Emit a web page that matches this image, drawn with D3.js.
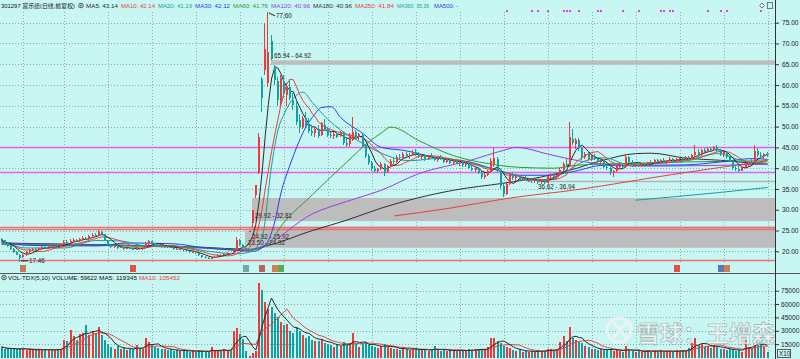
<!DOCTYPE html>
<html>
<head>
<meta charset="utf-8">
<title>301297 富乐德</title>
<script src="https://d3js.org/d3.v7.min.js"></script>
<style>
  body { margin: 0; background: #c8f6f3; overflow: hidden; }
  svg text { font-family: "Liberation Sans", "Noto Sans CJK SC", sans-serif; }
</style>
</head>
<body>
<script>
// daily candles (前复权)
var open = [22.9,22.6,22.0,21.2,20.6,19.9,19.1,18.6,19.1,19.8,
  20.3,20.6,20.4,20.9,21.0,20.7,21.2,21.0,21.4,21.2,
  21.6,22.3,22.0,22.5,22.8,22.4,23.0,23.3,22.9,23.6,
  24.0,23.7,24.6,24.1,22.6,21.5,21.0,21.3,20.8,21.0,
  20.6,20.9,20.7,20.4,20.8,20.5,20.9,21.8,22.4,22.0,
  21.6,21.2,21.0,21.3,21.1,20.9,20.6,20.4,20.5,20.2,
  20.0,19.8,19.9,19.6,19.0,18.7,18.5,18.4,18.5,18.7,
  19.2,19.1,19.4,19.6,19.5,20.1,22.6,21.5,20.9,24.92,
  26.8,33.5,39.0,61.5,63.5,60.5,70.5,64.5,61.0,56.0,
  61.0,57.5,59.5,56.5,55.0,51.5,50.0,52.0,50.5,49.0,
  48.5,49.5,48.0,50.5,49.5,48.0,47.8,48.2,47.7,48.3,
  46.0,45.8,46.8,48.6,47.5,48.0,45.3,43.0,41.2,39.8,
  39.3,39.8,41.0,39.0,40.4,41.8,41.5,42.8,42.4,43.4,
  42.9,43.2,44.0,43.3,42.8,43.1,42.2,42.9,42.6,42.0,
  42.5,42.3,41.5,42.1,41.3,41.9,41.2,41.6,40.7,41.2,
  40.0,39.6,40.1,38.9,37.8,38.4,39.2,41.0,42.2,39.5,
  35.8,33.9,36.2,38.4,37.6,38.0,37.2,37.6,37.0,37.3,
  36.9,37.1,36.6,36.9,36.5,38.0,38.5,37.9,38.3,39.6,
  41.0,40.5,47.0,45.8,46.8,44.8,42.6,43.4,42.2,42.9,
  42.1,41.6,42.0,40.4,40.0,38.8,39.3,40.5,40.6,40.3,
  42.8,41.6,40.8,41.1,40.6,40.9,40.7,41.4,41.2,41.9,
  41.4,42.0,41.6,41.8,42.3,41.7,42.1,42.4,41.9,42.6,
  42.2,43.2,44.0,43.2,44.3,43.8,44.6,44.4,45.0,44.3,
  43.4,43.8,42.6,41.8,40.0,39.8,39.4,40.2,40.9,41.5,
  41.2,44.2,43.2,42.9,43.4];
var high = [23.3,22.8,22.2,21.4,20.8,20.1,19.3,19.4,20.0,20.5,
  20.9,20.8,21.1,21.3,21.2,21.4,21.4,21.6,21.6,21.8,
  22.8,22.6,22.9,23.2,23.0,23.3,23.7,23.5,23.9,24.4,
  24.3,25.1,24.9,24.2,22.8,21.8,21.6,21.4,21.3,21.1,
  21.1,21.0,20.9,21.0,20.9,21.1,22.2,22.6,22.5,22.1,
  21.7,21.4,21.5,21.4,21.2,21.0,20.7,20.7,20.6,20.3,
  20.1,20.1,20.0,19.7,19.1,18.9,18.6,18.7,18.9,19.3,
  19.3,19.6,19.8,19.7,20.2,23.5,22.9,21.8,21.2,24.92,
  29.9,35.88,48.5,62.0,75.0,77.6,72.0,64.92,62.0,62.5,
  62.5,60.5,61.5,58.0,56.0,53.0,52.5,53.5,52.0,50.5,
  50.0,50.3,51.0,51.8,50.0,48.8,48.7,48.8,48.9,48.6,
  47.5,48.5,52.2,49.2,48.5,48.4,45.8,43.5,41.8,40.6,
  40.0,41.5,41.3,40.8,42.2,42.5,43.2,43.5,43.8,44.0,
  43.6,44.4,44.6,44.0,43.5,43.4,43.2,43.6,43.0,42.8,
  43.2,42.6,42.4,42.5,42.2,42.3,42.0,41.9,41.5,41.5,
  40.8,40.4,40.4,39.4,38.8,39.6,42.5,44.8,42.6,39.8,
  36.2,36.5,38.8,39.0,38.5,38.4,37.9,38.0,37.6,37.7,
  37.4,37.5,37.2,37.3,38.2,38.8,38.9,38.6,40.0,41.5,
  42.2,51.0,49.5,47.2,47.2,45.2,43.8,43.8,43.2,43.4,
  42.8,42.5,42.3,41.0,40.4,39.6,40.8,41.2,41.0,43.5,
  43.0,42.0,41.4,41.5,41.2,41.3,41.6,41.9,42.2,42.1,
  42.3,42.4,42.0,42.6,42.5,42.4,42.7,42.6,42.9,43.0,
  43.5,45.6,44.5,44.6,44.8,45.0,45.2,45.4,45.5,44.6,
  44.2,44.0,43.0,42.0,40.5,40.6,40.5,41.2,41.8,42.4,
  45.5,44.8,44.0,43.6,43.8];
var low = [22.3,21.8,21.1,20.4,19.7,19.0,17.46,18.3,18.9,19.5,
  20.1,20.1,20.2,20.6,20.5,20.6,20.8,20.9,21.0,21.1,
  21.5,21.8,21.9,22.3,22.2,22.3,22.8,22.7,22.8,23.4,
  23.4,23.6,24.0,22.4,21.3,20.8,20.9,20.6,20.7,20.4,
  20.5,20.5,20.2,20.3,20.3,20.4,20.8,21.6,21.8,21.4,
  21.0,20.8,20.9,20.9,20.7,20.4,20.2,20.3,20.0,19.8,
  19.6,19.7,19.4,18.8,18.5,18.3,18.1,18.2,18.4,18.6,
  18.9,19.0,19.3,19.3,19.4,20.0,21.3,20.7,20.4,24.92,
  25.92,32.81,38.5,53.5,62.5,59.5,65.94,60.0,55.0,55.0,
  57.0,55.0,56.5,54.0,50.5,48.5,49.5,49.8,48.5,47.8,
  47.5,47.2,47.8,49.0,47.5,47.2,47.0,47.3,47.4,45.5,
  45.0,45.2,46.5,47.0,46.8,45.0,42.5,40.8,39.4,38.8,
  38.9,39.5,38.0,38.8,40.2,41.0,41.2,42.0,42.1,42.6,
  42.2,42.9,43.0,42.5,42.0,41.8,41.9,42.4,41.7,41.5,
  42.0,41.2,41.2,41.0,40.9,41.0,40.6,40.4,40.3,39.8,
  39.2,39.1,38.6,37.5,37.4,38.1,39.0,40.2,39.0,35.0,
  33.0,33.5,36.0,37.2,37.0,36.9,36.8,36.8,36.6,36.5,
  36.4,36.3,36.2,36.3,36.4,37.5,37.6,37.5,38.1,39.2,
  40.2,40.3,45.5,44.5,44.2,42.0,42.1,41.8,41.8,41.9,
  41.3,41.0,40.0,39.5,38.3,37.8,39.0,40.0,40.0,40.1,
  41.3,40.4,40.2,40.3,40.2,40.4,40.5,40.9,41.0,41.1,
  41.2,41.3,41.0,41.5,41.4,41.5,41.6,41.5,41.7,41.8,
  42.0,42.8,42.8,43.0,43.4,43.6,44.0,44.2,44.0,43.0,
  42.6,42.3,41.5,39.6,39.3,39.0,39.2,40.0,40.4,41.0,
  41.0,42.8,42.5,42.3,42.6];
var close = [22.6,22.0,21.3,20.6,19.9,19.2,18.5,19.2,19.8,20.3,
  20.6,20.4,20.9,21.0,20.7,21.2,21.0,21.4,21.2,21.6,
  22.3,22.0,22.5,22.8,22.4,23.0,23.3,22.9,23.6,24.0,
  23.7,24.6,24.2,22.6,21.5,21.0,21.3,20.8,21.0,20.6,
  20.9,20.7,20.4,20.8,20.5,20.9,21.8,22.4,22.0,21.6,
  21.2,21.0,21.3,21.1,20.9,20.6,20.4,20.5,20.2,20.0,
  19.8,19.9,19.6,19.0,18.7,18.5,18.4,18.5,18.7,19.2,
  19.1,19.4,19.6,19.5,20.0,22.8,21.5,20.9,20.77,24.92,
  29.9,35.88,47.5,57.0,68.6,68.0,66.3,61.2,56.5,61.8,
  58.0,59.8,57.0,55.2,51.2,50.0,52.0,50.5,49.0,48.5,
  49.5,47.8,50.8,49.4,48.0,47.8,48.3,47.6,48.5,46.0,
  45.6,48.0,48.8,47.5,48.2,45.4,43.0,41.2,39.8,39.3,
  39.9,41.0,38.8,40.5,41.8,41.4,42.8,42.4,43.4,42.9,
  43.2,44.0,43.3,42.8,43.1,42.2,42.9,42.6,42.0,42.5,
  42.3,41.5,42.1,41.3,41.9,41.2,41.6,40.7,41.2,40.0,
  39.6,40.1,38.9,37.8,38.4,39.2,41.8,42.4,39.5,35.6,
  33.8,36.2,38.4,37.6,38.0,37.2,37.6,37.0,37.3,36.9,
  37.1,36.6,36.9,36.5,38.0,38.5,37.9,38.3,39.6,41.0,
  40.6,47.5,46.0,46.8,44.8,42.6,43.4,42.2,42.9,42.1,
  41.6,42.0,40.4,40.0,38.8,39.3,40.5,40.6,40.3,42.8,
  41.6,40.8,41.1,40.6,40.9,40.7,41.4,41.2,41.9,41.4,
  42.0,41.6,41.8,42.3,41.7,42.1,42.4,41.9,42.6,42.2,
  43.2,44.0,43.2,44.3,43.8,44.6,44.4,45.0,44.3,43.4,
  43.8,42.6,41.8,40.0,39.8,39.4,40.2,40.9,41.5,41.2,
  44.2,43.2,42.9,43.4,43.1];
// volume in axis units (x10)
var volume = [12000,10000,9000,9500,10000,9000,11000,9000,8500,9000,
  8000,8500,9500,8000,9000,8500,9000,8000,9500,10000,
  20000,18000,31000,24000,20000,26000,28000,37000,25000,30000,
  27000,34000,25000,20000,15000,12000,10000,13000,9000,11000,
  8500,10000,9000,14000,9500,10000,22000,17000,14000,12000,
  11000,9000,10000,8000,9000,7500,8000,7000,8500,7000,
  6500,7500,6000,8000,7000,6500,6000,12000,7000,8000,
  7500,9000,8000,8500,30000,33000,26000,21000,7000,2000,
  5000,7000,84000,76000,62000,55000,57000,50000,45000,40000,
  36000,38000,30000,28000,34000,30000,25000,22000,24000,20000,
  18000,19000,21000,16000,15000,14000,12000,15000,13000,17000,
  14000,16000,27000,15000,12000,16000,17000,14000,13000,12000,
  11000,13000,15000,12000,11000,9000,10000,8500,12000,9000,
  8000,10000,9500,8000,9000,8500,7500,9000,13000,8000,
  7500,8500,7000,9000,8000,7500,8500,7000,8000,9000,
  8500,9500,9000,10000,8000,12000,22000,22000,19000,16000,
  13000,12000,11000,8000,7000,9000,6500,7500,6000,7000,
  6500,8000,7000,7500,9000,10000,8000,9000,17000,24000,
  19000,34000,22000,20000,17000,16000,13000,12000,10000,9000,
  8000,9500,8500,9000,10000,7500,8000,7000,6500,13000,
  8000,7000,6500,7500,6000,7000,8000,6500,7500,7000,
  8000,6500,7000,7500,6000,8000,7000,8500,7500,11000,
  16000,22000,14000,15000,12000,13000,11000,14000,12000,10000,
  9000,8000,10000,9000,7500,8000,6500,20000,12000,11000,
  14000,22000,15000,12000,6000];

// longer moving averages, read as points along each curve (candle index, price)
var ma20Idx = [0,8,20,30,38,46,55,65,75,79,83,86,88,90,93,96,99,104,108,115,121,130,140,150,158,165,172,180,186,192,200,210,220,228,236,244];
var ma20Val = [22.6,20.8,20.8,22.6,22.5,21.3,21.3,20.1,19.4,19.8,23.4,40.5,49.0,53.0,56.8,58.3,55.8,51.7,49.2,46.0,43.6,41.8,42.4,41.0,39.5,38.0,37.2,39.2,41.8,42.5,40.8,41.2,42.0,43.5,41.8,41.19];
var ma30Idx = [0,10,31,40,55,63,75,80,84,87,89,92,94,97,99,102,105,108,115,121,128,139,149,158,165,174,181,192,202,218,229,239,244];
var ma30Val = [22.3,21.4,21.3,22.0,21.8,21.0,20.2,20.0,21.5,27.0,34.0,41.0,45.0,50.0,52.2,54.6,54.8,52.2,48.4,45.0,44.3,42.4,41.5,39.5,38.3,38.3,39.0,40.7,40.7,40.8,41.5,42.3,42.12];
var ma60Idx = [0,31,63,79,84,90,99,110,117,121,124,133,144,155,165,176,183,202,218,234,244];
var ma60Val = [21.6,21.4,20.9,20.3,21.2,27.0,33.6,41.5,46.3,48.5,49.9,46.6,43.0,41.1,40.2,40.0,40.7,41.2,41.5,41.7,41.76];
var ma120Idx = [0,31,63,79,84,99,110,121,133,149,160,164,174,181,191,207,222,244];
var ma120Val = [21.8,21.5,20.8,20.3,21.5,29.0,32.0,34.7,38.7,41.8,44.3,45.0,43.4,42.2,41.0,40.5,40.6,40.96];
var ma180Idx = [0,31,63,79,84,99,110,121,144,160,172,181,192,202,207,218,229,239,244];
var ma180Val = [22.0,21.6,21.0,20.5,21.2,25.0,27.5,30.4,34.7,36.4,37.9,39.5,42.0,43.5,43.6,42.4,41.9,41.2,40.96];
var ma250Idx = [125,143,160,184,213,244];
var ma250Val = [28.5,30.4,32.6,34.9,38.4,41.8];
var ma360Idx = [202,228,244];
var ma360Val = [32.3,34.1,35.36];

var priceTicks = [20,25,30,35,40,45,50,55,60,65,70,75];
var volTicks = [15000,30000,45000,60000,75000];
var gridIdx = [7,20,34,48,62,76,90,104,118,132,146,160,174,188,202,216,230,244];

// drawn lines and gap zones
var pinkLines = [45.0, 39.1];
var redLines = [25.95, 25.45, 17.9];
var gapLo = [64.92, 29.92, 24.92, 23.50];
var gapHi = [65.94, 32.81, 25.92, 24.92];
var gapFrom = [86, 80, 79, 78];
var gapLabel = ["65.94 - 64.92", "29.92 - 32.81", "24.92 - 25.92", "23.50 - 24.92"];
var supLo = 36.62, supHi = 36.94, supFrom = 171;
var signalIdx = [161,169,171,174,179,180,181,184,190,191,198,203,210,211,213,214,225,229,231,242];
var iconIdx = [7,42,78,83,87,89,215,229,231];

var legendNames = ["MA5","MA10","MA20","MA30","MA60","MA120","MA180","MA250","MA360","MA500"];
var legendValues = ["43.14","42.14","41.19","42.12","41.76","40.96","40.96","41.84","35.36","-"];
var volNames = ["VOL-TDX(5,10)","VOLUME","MA5","MA10"];
var volValues = [null,"59622","119345","105452"];

// styles and layout
var maColor = {MA5:"#2a2a2a", MA10:"#e8403c", MA20:"#1d9c98", MA30:"#2b3bf0", MA60:"#2e9a2e",
  MA120:"#9a3ce6", MA180:"#303030", MA250:"#e8403c", MA360:"#1d9c98", MA500:"#2b3bf0"};
var legendX = [86,121,158,195,233,271,313,355,397,434];
var legendW = [32,34,34,35,35,39,39,39,32,24];
var volLegendX = [8,52,99,139];
var volLegendW = [42,45,38,41];
var upColor = "#f23838", downColor = "#12a0a0";
var iconFill = ["#c8643c","#e83030","#5f9c9c","#b04848","#d07030","#3fa040","#e83030","#4a64a8","#d06a3a"];
var fs = 6.3, lfs = 5.8;

var W = 800, H = 359, right = 775;
var svg = d3.select("body").append("svg").attr("width", W).attr("height", H);
svg.append("rect").attr("width", W).attr("height", H).attr("fill", "#c8f6f3");

var x = d3.scaleLinear().domain([0, close.length - 1]).range([1.5, 767.6]);
var y = d3.scaleLinear().domain([20, 75]).range([251.3, 22.7]);
var yv = d3.scaleLinear().domain([0, 75000]).range([357.5, 290.7]);
var px = function(i) { return Math.round(x(i)); };

var defs = svg.append("defs");
defs.append("clipPath").attr("id", "cp").append("rect").attr("x", 0).attr("y", 10).attr("width", right).attr("height", 253);
defs.append("clipPath").attr("id", "cv").append("rect").attr("x", 0).attr("y", 283).attr("width", right).attr("height", 76);

// grid
var grid = svg.append("g").attr("stroke", "#8fa8a8").attr("stroke-width", 1).attr("stroke-dasharray", "1,2").attr("shape-rendering", "crispEdges");
grid.selectAll(".hp").data(priceTicks).join("line")
  .attr("x1", 0).attr("x2", right).attr("y1", d => Math.round(y(d)) + 0.5).attr("y2", d => Math.round(y(d)) + 0.5);
grid.selectAll(".hv").data(volTicks).join("line")
  .attr("x1", 0).attr("x2", right).attr("y1", d => Math.round(yv(d)) + 0.5).attr("y2", d => Math.round(yv(d)) + 0.5);
grid.selectAll(".vg").data(gridIdx).join("line")
  .attr("x1", d => px(d) + 0.5).attr("x2", d => px(d) + 0.5).attr("y1", 12).attr("y2", 262);
grid.selectAll(".vv").data(gridIdx).join("line")
  .attr("x1", d => px(d) + 0.5).attr("x2", d => px(d) + 0.5).attr("y1", 284).attr("y2", 359);

var gp = svg.append("g").attr("clip-path", "url(#cp)");

// gap zones
var zones = d3.range(gapLo.length);
gp.selectAll(".zone").data(zones).join("rect")
  .attr("x", k => px(gapFrom[k]) - 1)
  .attr("width", k => right - px(gapFrom[k]) + 1)
  .attr("y", k => y(gapHi[k]))
  .attr("height", k => k === 0 ? y(gapLo[k]) - y(gapHi[k]) : y(gapLo[k]) - y(gapHi[k]) + 11)
  .attr("fill", "#bdbdbd");
gp.selectAll(".zl").data(zones).join("text")
  .attr("x", k => px(gapFrom[k]) + 2)
  .attr("y", k => k === 0 ? y(gapHi[k]) - 2 : y(gapLo[k]) + 8)
  .attr("font-size", fs).attr("fill", "#222")
  .text(k => gapLabel[k]);

// support line
gp.append("line").attr("x1", px(supFrom)).attr("x2", right)
  .attr("y1", y((supLo + supHi) / 2)).attr("y2", y((supLo + supHi) / 2))
  .attr("stroke", "#b4b4b4").attr("stroke-width", 1.5);
gp.append("text").attr("x", px(supFrom)).attr("y", y(supLo) + 7)
  .attr("font-size", fs).attr("fill", "#222").text(supLo.toFixed(2) + " - " + supHi.toFixed(2));

// horizontal lines
gp.selectAll(".pl").data(pinkLines).join("line")
  .attr("x1", 0).attr("x2", right).attr("y1", d => Math.round(y(d)) + 0.5).attr("y2", d => Math.round(y(d)) + 0.5)
  .attr("stroke", "#e35ff2").attr("stroke-width", 1.3);
gp.selectAll(".rl").data(redLines).join("line")
  .attr("x1", 0).attr("x2", right).attr("y1", d => Math.round(y(d)) + 0.5).attr("y2", d => Math.round(y(d)) + 0.5)
  .attr("stroke", "#ee7070").attr("stroke-width", 1.3);

// moving averages
function sma(arr, n) {
  return arr.map(function(d, i) { return d3.mean(arr.slice(Math.max(0, i - n + 1), i + 1)); });
}
var lineIdx = d3.line().x((d, i) => x(i)).y(d => y(d));
var knot = d3.line().x(d => x(d[0])).y(d => y(d[1])).curve(d3.curveMonotoneX);
var knotSets = [
  ["MA360", ma360Idx, ma360Val], ["MA250", ma250Idx, ma250Val], ["MA180", ma180Idx, ma180Val],
  ["MA120", ma120Idx, ma120Val], ["MA60", ma60Idx, ma60Val], ["MA30", ma30Idx, ma30Val], ["MA20", ma20Idx, ma20Val]
];
knotSets.forEach(function(s) {
  gp.append("path").attr("d", knot(d3.zip(s[1], s[2]))).attr("fill", "none")
    .attr("stroke", maColor[s[0]]).attr("stroke-width", 1);
});
gp.append("path").attr("d", lineIdx(sma(close, 10))).attr("fill", "none").attr("stroke", maColor.MA10).attr("stroke-width", 1);
gp.append("path").attr("d", lineIdx(sma(close, 5))).attr("fill", "none").attr("stroke", maColor.MA5).attr("stroke-width", 1);

// candles
var idx = d3.range(close.length);
var col = i => close[i] >= open[i] ? upColor : downColor;
var cg = gp.append("g").attr("shape-rendering", "crispEdges");
cg.selectAll(".w").data(idx).join("line")
  .attr("x1", i => px(i) - 0.5).attr("x2", i => px(i) - 0.5)
  .attr("y1", i => y(high[i])).attr("y2", i => y(low[i]))
  .attr("stroke", col);
cg.selectAll(".b").data(idx).join("rect")
  .attr("x", i => px(i) - 1).attr("width", 2)
  .attr("y", i => y(Math.max(open[i], close[i])))
  .attr("height", i => Math.max(1, Math.abs(y(open[i]) - y(close[i]))))
  .attr("fill", col);

// high / low notes
var hiI = d3.maxIndex(high), loI = d3.minIndex(low);
svg.append("path").attr("d", "M" + (px(hiI) + 1) + "," + (y(high[hiI]) + 1) + "l6,3")
  .attr("stroke", "#222").attr("fill", "none");
svg.append("text").attr("x", px(hiI) + 8).attr("y", y(high[hiI]) + 6).attr("font-size", fs).attr("fill", "#222")
  .text(high[hiI].toFixed(2));
svg.append("path").attr("d", "M" + (px(loI) + 1) + "," + (y(low[loI]) - 1) + "h7")
  .attr("stroke", "#222").attr("fill", "none");
svg.append("text").attr("x", px(loI) + 9).attr("y", y(low[loI]) + 1.5).attr("font-size", fs).attr("fill", "#222")
  .text(low[loI].toFixed(2));

// signal dots on top
svg.selectAll(".sig").data(signalIdx).join("rect")
  .attr("x", i => px(i) - 1).attr("y", 10).attr("width", 2).attr("height", 2).attr("fill", "#e83ee8");

// icons under price
svg.selectAll(".ic").data(iconIdx).join("rect")
  .attr("x", i => px(i) - 3).attr("y", 265).attr("width", 6).attr("height", 7)
  .attr("fill", (d, k) => iconFill[k]).attr("opacity", 0.85);

// volume panel
var gv = svg.append("g").attr("clip-path", "url(#cv)");
gv.append("g").attr("shape-rendering", "crispEdges").selectAll("rect").data(idx).join("rect")
  .attr("x", i => px(i) - 1).attr("width", 2)
  .attr("y", i => yv(volume[i])).attr("height", i => yv(0) - yv(volume[i]))
  .attr("fill", col);
var vline = d3.line().x((d, i) => x(i)).y(d => yv(d));
gv.append("path").attr("d", vline(sma(volume, 10))).attr("fill", "none").attr("stroke", "#ee4040").attr("stroke-width", 1);
gv.append("path").attr("d", vline(sma(volume, 5))).attr("fill", "none").attr("stroke", "#2a2a2a").attr("stroke-width", 1);

// panel frame
svg.append("line").attr("x1", 0).attr("x2", W).attr("y1", 273.5).attr("y2", 273.5).attr("stroke", "#555");
svg.append("line").attr("x1", right + 0.5).attr("x2", right + 0.5).attr("y1", 0).attr("y2", H).attr("stroke", "#333");

// axes
var ax = svg.append("g").attr("transform", "translate(" + (right + 1) + ",0)")
  .call(d3.axisRight(y).tickValues(priceTicks).tickFormat(d3.format(".2f")).tickSize(3).tickPadding(3));
var axv = svg.append("g").attr("transform", "translate(" + (right + 1) + ",0)")
  .call(d3.axisRight(yv).tickValues(volTicks).tickFormat(d3.format("d")).tickSize(3).tickPadding(2));
[ax, axv].forEach(function(a) {
  a.select(".domain").remove();
  a.selectAll("text").attr("font-size", 6.6).attr("fill", "#222")
    .attr("font-family", "Liberation Sans, sans-serif");
  a.selectAll("line").attr("stroke", "#333");
});
svg.append("rect").attr("x", 777.5).attr("y", 349.5).attr("width", 13).attr("height", 8)
  .attr("fill", "none").attr("stroke", "#555");
svg.append("text").attr("x", 779).attr("y", 356).attr("font-size", fs).attr("fill", "#222").text("X10");

// top legend
var lg = svg.append("g").attr("font-size", lfs);
lg.append("text").attr("x", 1).attr("y", 8).attr("fill", "#111")
  .attr("textLength", 74).attr("lengthAdjust", "spacingAndGlyphs").text("301297 富乐德(日线,前复权)");
lg.append("circle").attr("cx", 81).attr("cy", 5.5).attr("r", 2.3).attr("fill", "none").attr("stroke", "#555");
lg.append("circle").attr("cx", 81).attr("cy", 5.5).attr("r", 0.9).attr("fill", "#555");
lg.selectAll(".li").data(legendNames).join("text")
  .attr("x", (n, k) => legendX[k]).attr("y", 8).attr("fill", n => maColor[n])
  .attr("textLength", (n, k) => legendW[k]).attr("lengthAdjust", "spacingAndGlyphs")
  .text((n, k) => n + ": " + legendValues[k]);
// top-right buttons
svg.append("path").attr("d", "M762,3l2.5,2.5l-2.5,2.5l-2.5,-2.5z").attr("fill", "none").attr("stroke", "#777");
svg.append("rect").attr("x", 767.5).attr("y", 2.5).attr("width", 5).attr("height", 6).attr("fill", "none").attr("stroke", "#777");

// volume legend
var vg = svg.append("g").attr("font-size", lfs);
vg.append("circle").attr("cx", 4).attr("cy", 277.5).attr("r", 2.3).attr("fill", "none").attr("stroke", "#555");
vg.append("circle").attr("cx", 4).attr("cy", 277.5).attr("r", 0.9).attr("fill", "#555");
vg.selectAll(".vl").data(volNames).join("text")
  .attr("x", (n, k) => volLegendX[k]).attr("y", 280)
  .attr("fill", n => n === "MA10" ? "#e8403c" : "#111")
  .attr("textLength", (n, k) => volLegendW[k]).attr("lengthAdjust", "spacingAndGlyphs")
  .text((n, k) => volValues[k] === null ? n : n + ": " + volValues[k]);

// watermark
var wm = svg.append("g").attr("opacity", 0.8);
wm.append("circle").attr("cx", 619).attr("cy", 330).attr("r", 12).attr("fill", "none").attr("stroke", "#f4f4f4").attr("stroke-width", 3);
wm.append("path").attr("d", "M613,322 L621,330 L613,338 M619,330 L627,323 M621,331 L627,338")
  .attr("fill", "none").attr("stroke", "#f4f4f4").attr("stroke-width", 3);
wm.append("text").attr("x", 637).attr("y", 342).attr("font-size", 23)
  .attr("font-family", "Noto Sans CJK SC").attr("font-weight", "bold")
  .attr("fill", "#f6f6f6").attr("stroke", "#8d9c9c").attr("stroke-width", 0.6)
  .text("雪球：王增森");
</script>
</body>
</html>
